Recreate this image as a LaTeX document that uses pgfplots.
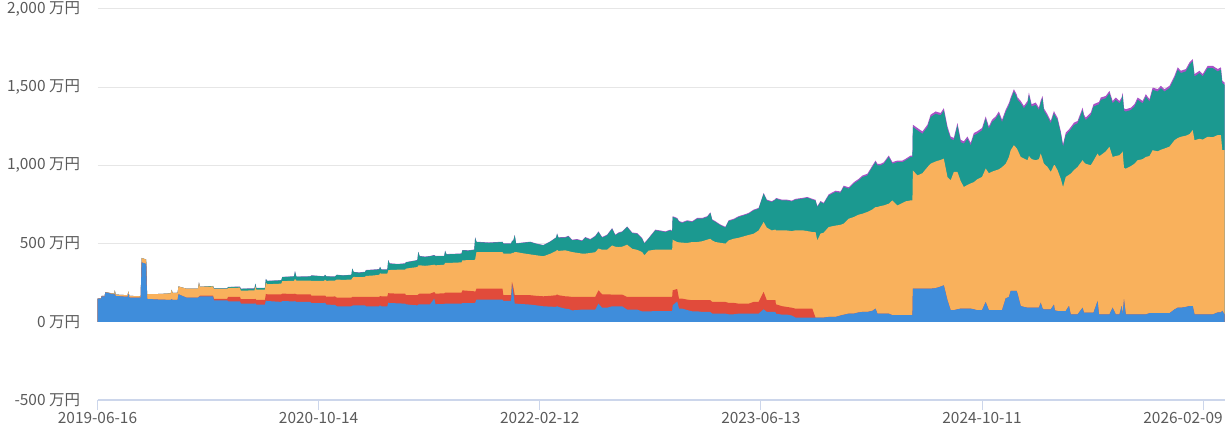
\documentclass[border=0pt]{standalone}
\usepackage{fontspec}
\usepackage{pgfplots}
\usepackage{pgfplotstable}
\pgfplotsset{compat=1.18}
\newfontfamily\cjk{Noto Sans CJK JP}
\definecolor{cblue}{HTML}{3F8DDB}
\definecolor{cred}{HTML}{E14B3B}
\definecolor{corange}{HTML}{F9B15C}
\definecolor{cteal}{HTML}{1B9990}
\definecolor{cpurple}{HTML}{A852C6}
\definecolor{axisc}{HTML}{CCD6EB}
\definecolor{gridc}{HTML}{E6E6E6}
\definecolor{labelc}{HTML}{5A5A5A}

% cumulative tops of each layer (万円): B blue, R red, O orange, T teal, P purple
\pgfplotstableread{
d B R O T P
0 148 148 148 148 148
8 148 148 150 150 150
9 163 163 165 165 165
16 163 163 165 165 165
17 188 188 190 190 190
32 178 178 182 182 182
37 174 174 180 180 180
38 178 178 201 201 201
40 165 165 174 174 174
66 160 160 170 170 170
68 180 180 195 195 195
70 155 155 166 166 166
95 154 154 163 163 163
97 380 380 408 408 408
107 370 370 398 398 398
109 146 146 176 176 176
137 142 142 178 178 178
161 140 140 182 182 182
163 145 145 205 205 205
165 140 140 184 184 184
176 140 140 186 186 186
178 176 176 226 226 226
195 155 155 212 212 212
221 155 155 212 212 212
223 160 160 252 252 252
225 162 167 224 224 224
254 162 167 226 229 229
256 137 146 210 214 214
285 137 146 210 214 214
287 131 159 216 222 223
313 131 160 218 224 225
315 116 145 199 211 212
345 116 145 201 213 214
347 118 147 225 244 245
349 110 140 205 216 217
368 110 140 205 216 217
370 135 178 250 274 275
373 133 176 240 261 262
404 127 176 244 265 266
406 133 180 260 286 287
432 130 178 262 290 291
434 132 180 275 323 324
437 127 176 263 288 289
468 127 176 263 290 291
470 120 167 262 296 297
498 120 167 262 290 291
500 122 168 270 300 301
503 110 160 262 290 291
522 108 162 264 289 290
526 99 154 270 300 301
540 99 154 268 296 297
558 99 154 270 300 301
560 103 160 280 340 341
563 105 159 287 318 319
575 105 159 285 314 316
588 105 159 287 318 320
590 99 159 293 329 331
605 99 159 296 332 334
619 99 159 300 335 337
621 105 165 310 350 352
624 99 163 308 333 335
637 99 163 308 333 335
639 122 184 329 393 395
642 120 182 331 372 374
660 118 180 333 368 370
676 116 180 333 372 374
678 112 170 340 380 382
690 108 170 345 386 388
703 105 170 350 393 395
705 110 175 360 446 448
708 112 180 361 419 421
720 112 180 358 415 417
731 112 180 361 419 421
740 148 190 365 425 427
743 112 180 361 419 421
762 114 182 365 420 422
764 116 186 376 453 455
767 116 186 376 431 433
785 116 186 378 433 435
800 116 186 380 435 437
802 120 201 393 457 459
815 120 198 394 455 457
828 120 195 395 460 462
830 122 191 400 538 540
833 142 212 446 510 512
860 142 212 446 505 507
890 142 212 446 510 512
892 133 170 436 500 502
909 133 170 436 500 502
911 244 255 440 515 517
914 180 220 440 520 522
917 116 170 446 553 555
920 116 170 446 500 502
935 113 170 438 505 507
951 110 170 431 510 512
965 105 166 425 498 500
980 99 163 419 489 491
995 97 166 435 512 514
1008 95 170 453 538 540
1010 100 175 460 563 565
1013 95 170 453 538 540
1028 84 163 457 538 542
1035 82 162 452 546 550
1043 73 159 446 521 525
1054 75 159 441 525 529
1065 78 159 436 516 520
1072 78 159 436 538 542
1083 78 159 440 525 529
1094 78 159 445 546 550
1101 116 201 468 574 578
1109 90 176 461 538 542
1120 90 176 461 553 557
1131 99 174 488 595 599
1138 99 174 480 553 557
1145 99 174 478 567 571
1153 99 174 480 574 578
1164 78 159 493 606 610
1175 78 159 467 567 571
1186 78 159 460 563 567
1197 66 159 446 531 535
1202 66 159 425 500 504
1211 66 159 455 531 535
1226 69 159 461 585 589
1237 69 159 461 580 584
1248 69 159 461 574 578
1259 69 159 461 585 589
1263 69 159 461 578 582
1264 105 201 525 670 675
1274 130 210 510 659 664
1278 84 148 508 640 645
1285 84 148 506 632 637
1296 75 142 504 644 649
1307 67 138 510 638 643
1318 67 138 510 659 664
1329 63 138 515 659 664
1340 63 138 525 670 675
1347 63 138 531 695 700
1351 52 127 520 650 655
1358 52 127 510 638 643
1369 52 127 505 617 622
1380 52 127 500 602 607
1387 48 121 520 644 649
1398 48 121 531 653 658
1409 52 116 537 670 675
1420 52 116 546 680 685
1431 52 116 555 691 696
1442 52 127 563 712 717
1453 52 127 584 723 728
1464 80 191 638 819 824
1471 63 138 602 776 781
1482 63 138 584 766 771
1490 63 138 590 780 785
1491 52 112 584 787 792
1504 46 100 584 776 781
1515 46 95 584 776 781
1526 40 90 580 770 775
1534 27 84 585 781 786
1549 27 84 585 787 792
1560 27 84 580 793 798
1571 27 84 574 781 786
1578 27 27 574 775 780
1582 27 27 520 734 739
1589 27 27 564 766 772
1596 27 27 570 755 761
1607 31 31 606 808 815
1622 31 31 615 830 838
1633 40 40 620 825 833
1640 45 45 628 862 870
1651 52 52 659 851 860
1662 52 52 670 883 892
1673 60 60 685 904 914
1681 63 63 691 925 935
1692 63 63 702 936 946
1703 70 70 718 989 999
1710 84 84 734 1021 1031
1714 52 52 734 1000 1010
1721 52 52 740 1000 1010
1728 52 52 744 1010 1020
1739 52 52 755 1053 1063
1747 42 42 776 1011 1021
1758 42 42 744 1021 1031
1769 42 42 760 1021 1031
1776 42 42 770 1032 1042
1787 42 42 776 1053 1063
1791 42 42 776 1053 1063
1792 212 212 968 1245 1260
1802 212 212 936 1224 1239
1813 212 212 950 1202 1217
1824 212 212 989 1245 1260
1831 212 212 1011 1309 1324
1842 215 215 1025 1330 1345
1853 225 225 1035 1320 1335
1860 233 233 1043 1351 1366
1868 138 138 926 1234 1249
1875 74 74 904 1170 1185
1882 74 74 958 1160 1175
1890 80 80 958 1256 1271
1897 84 84 900 1149 1164
1904 84 84 862 1139 1154
1912 84 84 875 1170 1185
1919 84 84 885 1128 1143
1926 80 80 893 1192 1207
1933 74 74 910 1202 1217
1944 74 74 926 1224 1239
1952 126 126 980 1298 1313
1959 74 74 950 1234 1249
1966 74 74 960 1277 1292
1974 74 74 968 1298 1313
1981 74 74 975 1330 1345
1988 74 74 989 1277 1292
1996 150 150 1010 1341 1356
2003 158 158 1053 1383 1398
2007 197 197 1097 1419 1434
2014 197 197 1129 1472 1487
2020 197 197 1110 1440 1455
2022 180 180 1100 1420 1435
2029 101 101 1054 1397 1412
2036 95 95 1044 1365 1380
2044 90 90 1033 1397 1412
2047 90 90 1060 1451 1466
2053 90 90 1040 1376 1391
2062 90 90 1033 1387 1402
2069 90 90 1040 1354 1369
2073 122 122 1076 1400 1415
2077 85 85 1040 1429 1444
2080 79 79 1011 1350 1365
2088 79 79 990 1311 1326
2095 79 79 958 1269 1284
2102 110 110 1001 1333 1348
2104 73 73 1001 1320 1335
2110 69 69 969 1290 1305
2117 69 69 915 1204 1219
2122 69 69 861 1119 1134
2128 69 69 926 1194 1209
2135 101 101 940 1215 1230
2139 47 47 947 1230 1245
2146 47 47 970 1258 1273
2154 47 47 990 1269 1284
2165 90 90 1033 1354 1369
2168 58 58 1020 1310 1325
2172 58 58 1010 1290 1305
2183 58 58 1001 1322 1337
2189 58 58 1030 1376 1391
2198 133 133 1076 1387 1402
2201 47 47 1060 1390 1405
2205 47 47 1065 1419 1434
2216 47 47 1090 1429 1444
2224 47 47 1119 1461 1476
2231 90 90 1054 1397 1412
2238 47 47 1060 1419 1434
2246 47 47 1065 1397 1412
2251 101 101 1080 1420 1435
2253 47 47 1090 1451 1466
2256 144 144 985 1350 1365
2260 47 47 979 1344 1359
2271 47 47 995 1354 1369
2279 47 47 1011 1376 1391
2286 47 47 1033 1419 1434
2297 47 47 1040 1397 1412
2304 47 47 1054 1440 1455
2312 55 55 1060 1408 1423
2319 55 55 1097 1483 1498
2330 55 55 1090 1472 1487
2337 55 55 1100 1494 1509
2345 55 55 1108 1472 1487
2356 55 55 1120 1494 1509
2367 79 79 1161 1558 1573
2374 90 90 1175 1612 1627
2381 90 90 1183 1590 1605
2392 95 95 1190 1601 1616
2400 101 101 1200 1644 1659
2407 101 101 1226 1665 1680
2411 47 47 1161 1569 1584
2422 47 47 1170 1590 1605
2429 47 47 1165 1569 1584
2440 47 47 1183 1622 1637
2451 47 47 1180 1622 1637
2462 60 60 1194 1601 1616
2469 60 60 1194 1612 1627
2472 70 70 1097 1526 1541
2477 47 47 1097 1515 1530
}\assets

\begin{document}
\begin{tikzpicture}
\useasboundingbox (0,0) rectangle (1230bp,431bp);
\begin{axis}[
  at={(97.5bp,31bp)}, anchor=south west,
  width=1127.5bp, height=391bp, scale only axis,
  xmin=0, xmax=2478, ymin=-500, ymax=2000,
  axis x line*=bottom, axis y line*=left,
  x axis line style={draw=axisc, line width=1.5bp, -},
  y axis line style={draw=none},
  xtick={0,486,972,1458,1944},
  xticklabels={2019-06-16,2020-10-14,2022-02-12,2023-06-13,2024-10-11},
  extra x ticks={2430},
  extra x tick labels={2026-02-09},
  extra x tick style={grid=none, xticklabel style={anchor=north east, xshift=23bp}},
  ytick={-500,0,500,1000,1500,2000},
  yticklabels={-500 万円,0 万円,500 万円,{1,000 万円},{1,500 万円},{2,000 万円}},
  ymajorgrids, major grid style={draw=gridc, line width=1bp},
  xtick style={draw=axisc, line width=1bp},
  ytick style={draw=none},
  tick align=outside, major tick length=10bp,
  every tick label/.append style={font=\cjk\fontsize{15.5}{17}\selectfont, text=labelc},
  yticklabel style={anchor=east, xshift=-4bp},
  xticklabel style={anchor=north, yshift=1bp},
]
\addplot[fill=cpurple, draw=none] table[x=d, y=P] {\assets} \closedcycle;
\addplot[fill=cteal, draw=none] table[x=d, y=T] {\assets} \closedcycle;
\addplot[fill=corange, draw=none] table[x=d, y=O] {\assets} \closedcycle;
\addplot[fill=cred, draw=none] table[x=d, y=R] {\assets} \closedcycle;
\addplot[fill=cblue, draw=none] table[x=d, y=B] {\assets} \closedcycle;
\end{axis}
\end{tikzpicture}
\end{document}
